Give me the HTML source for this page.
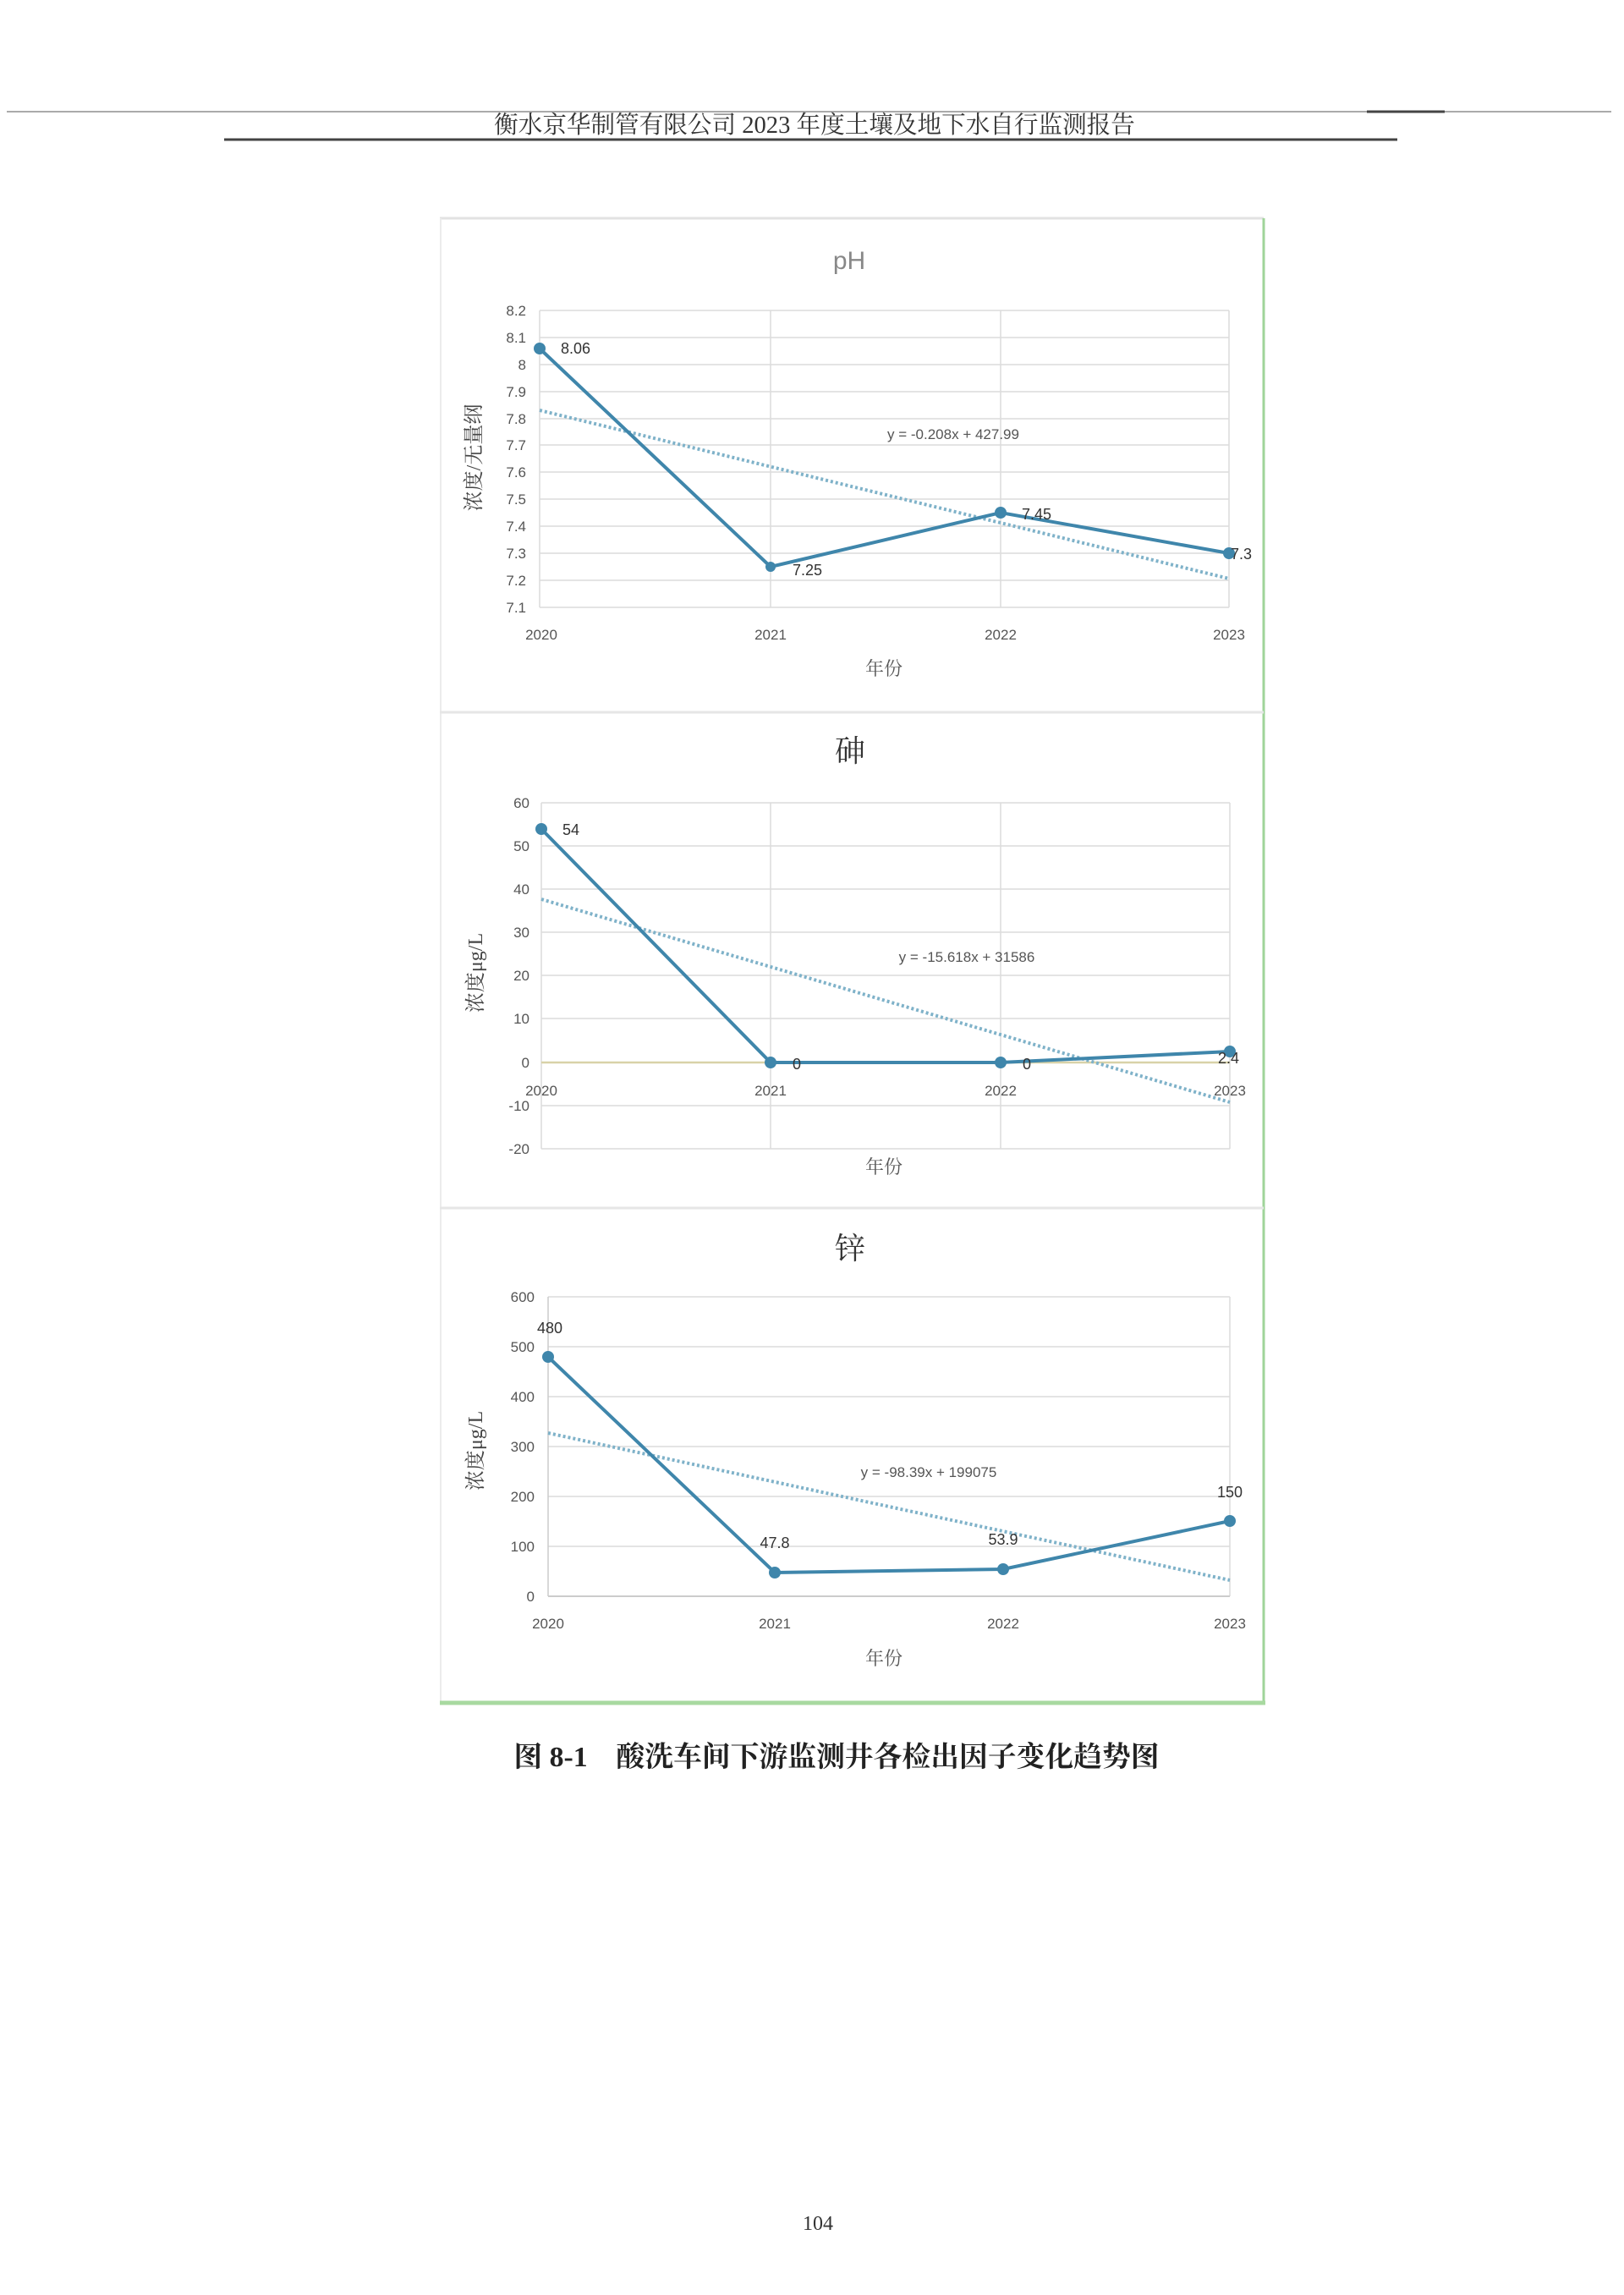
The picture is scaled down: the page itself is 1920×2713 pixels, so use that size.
<!DOCTYPE html>
<html><head><meta charset="utf-8"><style>
html,body{margin:0;padding:0;background:#fff;}
svg{display:block;}
text{font-family:"Liberation Sans","Noto Sans CJK SC",sans-serif;}
.t{font-size:17px;fill:#555;}
.cn{font-family:"Liberation Serif","Noto Serif CJK SC",serif;}
.g{stroke:#dcdcdc;stroke-width:1.5;}
.d{stroke:#3f86ab;stroke-width:4;fill:none;}
.tr{stroke:#7fb2c9;stroke-width:4;stroke-dasharray:3 3;fill:none;}
.lab{font-size:18px;fill:#333;}
</style></head><body>
<svg width="1920" height="2713" viewBox="0 0 1920 2713">
<!-- header -->
<line x1="8" y1="132" x2="1905" y2="132" stroke="#aaa" stroke-width="2"/>
<line x1="1616" y1="132" x2="1708" y2="132" stroke="#444" stroke-width="3"/>
<text x="963" y="157" class="cn" font-size="28.6" text-anchor="middle" fill="#333">衡水京华制管有限公司 2023 年度土壤及地下水自行监测报告</text>
<line x1="265" y1="165" x2="1652" y2="165" stroke="#444" stroke-width="3"/>

<!-- frame -->
<line x1="520" y1="258" x2="1494" y2="258" stroke="#e2e2e2" stroke-width="3"/>
<line x1="521" y1="258" x2="521" y2="2013" stroke="#ececec" stroke-width="2"/>
<line x1="1494" y1="258" x2="1494" y2="2015" stroke="#9fd49a" stroke-width="3"/>
<line x1="520" y1="2013" x2="1496" y2="2013" stroke="#a8d9a0" stroke-width="5"/>
<line x1="520" y1="842" x2="1494" y2="842" stroke="#e6e6e6" stroke-width="3"/>
<line x1="520" y1="1428" x2="1494" y2="1428" stroke="#e6e6e6" stroke-width="3"/>

<!-- pH chart -->
<text x="1004" y="318" font-size="30" text-anchor="middle" fill="#888">pH</text>
<g class="g">
<line x1="638" y1="367" x2="1453" y2="367"/><line x1="638" y1="399" x2="1453" y2="399"/><line x1="638" y1="431" x2="1453" y2="431"/><line x1="638" y1="463" x2="1453" y2="463"/><line x1="638" y1="495" x2="1453" y2="495"/><line x1="638" y1="526" x2="1453" y2="526"/><line x1="638" y1="558" x2="1453" y2="558"/><line x1="638" y1="590" x2="1453" y2="590"/><line x1="638" y1="622" x2="1453" y2="622"/><line x1="638" y1="654" x2="1453" y2="654"/><line x1="638" y1="686" x2="1453" y2="686"/><line x1="638" y1="718" x2="1453" y2="718"/>
<line x1="638" y1="367" x2="638" y2="718"/><line x1="911" y1="367" x2="911" y2="718"/><line x1="1183" y1="367" x2="1183" y2="718"/><line x1="1453" y1="367" x2="1453" y2="718"/>
</g>
<g class="t" text-anchor="end">
<text x="622" y="373">8.2</text><text x="622" y="405">8.1</text><text x="622" y="437">8</text><text x="622" y="469">7.9</text><text x="622" y="501">7.8</text><text x="622" y="532">7.7</text><text x="622" y="564">7.6</text><text x="622" y="596">7.5</text><text x="622" y="628">7.4</text><text x="622" y="660">7.3</text><text x="622" y="692">7.2</text><text x="622" y="724">7.1</text>
</g>
<g class="t" text-anchor="middle"><text x="640" y="756">2020</text><text x="911" y="756">2021</text><text x="1183" y="756">2022</text><text x="1453" y="756">2023</text></g>
<text x="1045" y="798" class="cn" font-size="22" text-anchor="middle" fill="#555">年份</text>
<text transform="translate(568,541) rotate(-90)" class="cn" font-size="24" text-anchor="middle" fill="#444">浓度/无量纲</text>
<line x1="638" y1="485" x2="1453" y2="684" class="tr"/>
<polyline class="d" points="638,412 911,670 1183,606 1453,654"/>
<g fill="#3f86ab"><circle cx="638" cy="412" r="7"/><circle cx="911" cy="670" r="6"/><circle cx="1183" cy="606" r="7"/><circle cx="1453" cy="654" r="7"/></g>
<g class="lab"><text x="663" y="418">8.06</text><text x="937" y="680">7.25</text><text x="1208" y="614">7.45</text><text x="1455" y="661">7.3</text></g>
<text x="1127" y="519" class="t" text-anchor="middle">y = -0.208x + 427.99</text>

<!-- Arsenic chart -->
<text x="1005" y="900" class="cn" font-size="36" text-anchor="middle" fill="#333">砷</text>
<g class="g">
<line x1="640" y1="949" x2="1454" y2="949"/><line x1="640" y1="1000" x2="1454" y2="1000"/><line x1="640" y1="1051" x2="1454" y2="1051"/><line x1="640" y1="1102" x2="1454" y2="1102"/><line x1="640" y1="1153" x2="1454" y2="1153"/><line x1="640" y1="1204" x2="1454" y2="1204"/><line x1="640" y1="1307" x2="1454" y2="1307"/><line x1="640" y1="1358" x2="1454" y2="1358"/>
<line x1="640" y1="949" x2="640" y2="1358"/><line x1="911" y1="949" x2="911" y2="1358"/><line x1="1183" y1="949" x2="1183" y2="1358"/><line x1="1454" y1="949" x2="1454" y2="1358"/>
</g>
<line x1="640" y1="1256" x2="1454" y2="1256" stroke="#d8d2a8" stroke-width="2.5"/>
<g class="t" text-anchor="end">
<text x="626" y="955">60</text><text x="626" y="1006">50</text><text x="626" y="1057">40</text><text x="626" y="1108">30</text><text x="626" y="1159">20</text><text x="626" y="1210">10</text><text x="626" y="1262">0</text><text x="626" y="1313">-10</text><text x="626" y="1364">-20</text>
</g>
<g class="t" text-anchor="middle"><text x="640" y="1295">2020</text><text x="911" y="1295">2021</text><text x="1183" y="1295">2022</text><text x="1454" y="1295">2023</text></g>
<text x="1045" y="1387" class="cn" font-size="22" text-anchor="middle" fill="#555">年份</text>
<text transform="translate(570,1150) rotate(-90)" class="cn" font-size="24" text-anchor="middle" fill="#444">浓度μg/L</text>
<line x1="640" y1="1063" x2="1454" y2="1303" class="tr"/>
<polyline class="d" points="640,980 911,1256 1183,1256 1454,1243"/>
<g fill="#3f86ab"><circle cx="640" cy="980" r="7"/><circle cx="911" cy="1256" r="7"/><circle cx="1183" cy="1256" r="7"/><circle cx="1454" cy="1243" r="7"/></g>
<g class="lab"><text x="665" y="987">54</text><text x="937" y="1264">0</text><text x="1209" y="1264">0</text><text x="1440" y="1257">2.4</text></g>
<text x="1143" y="1137" class="t" text-anchor="middle">y = -15.618x + 31586</text>

<!-- Zinc chart -->
<text x="1005" y="1488" class="cn" font-size="36" text-anchor="middle" fill="#333">锌</text>
<g class="g">
<line x1="648" y1="1533" x2="1454" y2="1533"/><line x1="648" y1="1592" x2="1454" y2="1592"/><line x1="648" y1="1651" x2="1454" y2="1651"/><line x1="648" y1="1710" x2="1454" y2="1710"/><line x1="648" y1="1769" x2="1454" y2="1769"/><line x1="648" y1="1828" x2="1454" y2="1828"/>
<line x1="1454" y1="1533" x2="1454" y2="1887"/>
</g>
<line x1="648" y1="1887" x2="1454" y2="1887" stroke="#ccc" stroke-width="2"/>
<line x1="648" y1="1533" x2="648" y2="1887" stroke="#ccc" stroke-width="1.5"/>
<g class="t" text-anchor="end">
<text x="632" y="1539">600</text><text x="632" y="1598">500</text><text x="632" y="1657">400</text><text x="632" y="1716">300</text><text x="632" y="1775">200</text><text x="632" y="1834">100</text><text x="632" y="1893">0</text>
</g>
<g class="t" text-anchor="middle"><text x="648" y="1925">2020</text><text x="916" y="1925">2021</text><text x="1186" y="1925">2022</text><text x="1454" y="1925">2023</text></g>
<text x="1045" y="1968" class="cn" font-size="22" text-anchor="middle" fill="#555">年份</text>
<text transform="translate(570,1715) rotate(-90)" class="cn" font-size="24" text-anchor="middle" fill="#444">浓度μg/L</text>
<line x1="648" y1="1694" x2="1454" y2="1868" class="tr"/>
<polyline class="d" points="648,1604 916,1859 1186,1855 1454,1798"/>
<g fill="#3f86ab"><circle cx="648" cy="1604" r="7"/><circle cx="916" cy="1859" r="7"/><circle cx="1186" cy="1855" r="7"/><circle cx="1454" cy="1798" r="7"/></g>
<g class="lab" text-anchor="middle"><text x="650" y="1576">480</text><text x="916" y="1830">47.8</text><text x="1186" y="1826">53.9</text><text x="1454" y="1770">150</text></g>
<text x="1098" y="1746" class="t" text-anchor="middle">y = -98.39x + 199075</text>

<!-- caption -->
<text x="989" y="2088" class="cn" font-size="33.8" font-weight="bold" text-anchor="middle" fill="#222">图 8-1　酸洗车间下游监测井各检出因子变化趋势图</text>
<text x="967" y="2636" class="cn" font-size="24" text-anchor="middle" fill="#333">104</text>
</svg>
</body></html>
